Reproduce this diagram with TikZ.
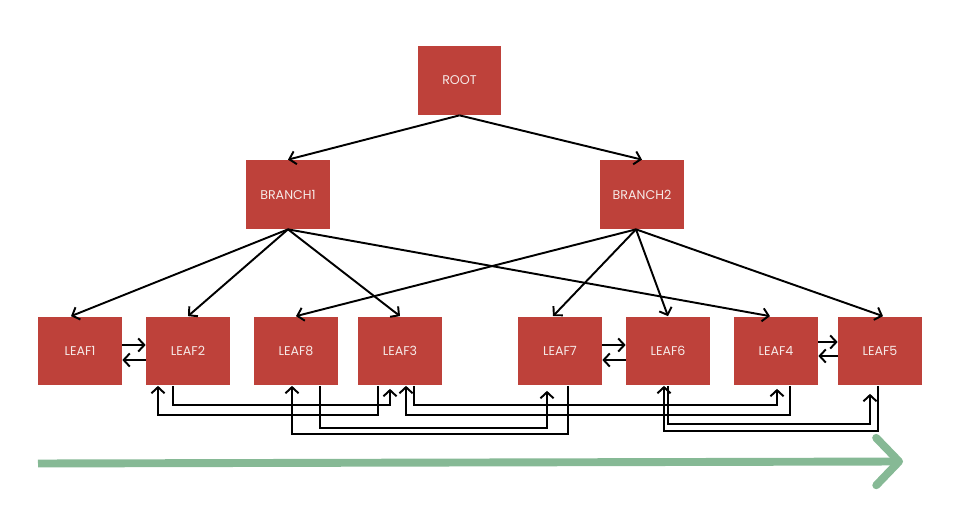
\documentclass[tikz,border=0pt]{standalone}
\usepackage{fontspec}
\setmainfont{Poppins}
\usepackage{tikz}
\usetikzlibrary{arrows.meta,calc}
\definecolor{brick}{HTML}{BE413A}
\definecolor{labeltext}{HTML}{F6E9E7}
\definecolor{sage}{HTML}{86B995}

\begin{document}
\begin{tikzpicture}[x=0.02cm,y=-0.02cm,>={Straight Barb[length=3.5pt,width=7.5pt]},
  box/.style={fill=brick,minimum width=1.68cm,minimum height=1.38cm,inner sep=0pt,text=labeltext,font=\fontsize{7.2}{8}\selectfont},
  link/.style={->,line width=1.1pt,black}]
\useasboundingbox (0,0) rectangle (958,506);
% tree
\node[box] (root) at (459.5,80.5) {ROOT};
\node[box] (b1) at (288,194.5) {BRANCH1};
\node[box] (b2) at (642,194.5) {BRANCH2};
\node[box] (l1) at (80,351) {LEAF1};
\node[box] (l2) at (188,351) {LEAF2};
\node[box] (l8) at (296,351) {LEAF8};
\node[box] (l3) at (400,351) {LEAF3};
\node[box] (l7) at (560,351) {LEAF7};
\node[box] (l6) at (668,351) {LEAF6};
\node[box] (l4) at (776,351) {LEAF4};
\node[box] (l5) at (880,351) {LEAF5};

\draw[link] (root.south) -- (b1.north);
\draw[link] (root.south) -- (b2.north);
\draw[link] (b1.south) -- ($(l1.north)+(-9,0)$);
\draw[link] (b1.south) -- (l2.north);
\draw[link] (b1.south) -- (l3.north);
\draw[link] (b1.south) -- ($(l4.north)+(-6,0)$);
\coordinate (b2s) at ($(b2.south)+(-6,0)$);
\draw[link] (b2s) -- (l8.north);
\draw[link] (b2s) -- ($(l7.north)+(-7,0)$);
\draw[link] (b2s) -- (l6.north);
\draw[link] (b2s) -- ($(l5.north)+(3,0)$);

% neighbours
\draw[link] ($(l1.east)+(0,-6)$) -- ($(l2.west)+(0,-6)$);
\draw[link] ($(l2.west)+(0,9)$) -- ($(l1.east)+(0,9)$);
\draw[link] ($(l7.east)+(0,-6)$) -- ($(l6.west)+(0,-6)$);
\draw[link] ($(l6.west)+(0,9)$) -- ($(l7.east)+(0,9)$);
\draw[link] ($(l4.east)+(0,-9)$) -- ($(l5.west)+(0,-9)$);
\draw[link] ($(l5.west)+(0,5)$) -- ($(l4.east)+(0,5)$);

% routes underneath
\draw[link] ($(l2.south)+(-15,0)$) -- ++(0,19) -| ($(l3.south)+(-10,3)$);
\draw[link] ($(l3.south)+(-22,0)$) -- ++(0,29) -| ($(l2.south)+(-30,0)$);
\draw[link] ($(l8.south)+(24,0)$) -- ++(0,42) -| ($(l7.south)+(-13,5)$);
\draw[link] ($(l7.south)+(8,0)$) -- ++(0,48) -| ($(l8.south)+(-4,0)$);
\draw[link] ($(l3.south)+(14,0)$) -- ++(0,19) -| ($(l4.south)+(1,3)$);
\draw[link] ($(l4.south)+(14,0)$) -- ++(0,29) -| ($(l3.south)+(6,0)$);
\draw[link] (l6.south) -- ++(0,38) -| ($(l5.south)+(-10,8)$);
\draw[link] ($(l5.south)+(-2,0)$) -- ++(0,45) -| ($(l6.south)+(-4,0)$);

% direction
\coordinate (start) at (38,463.5);
\coordinate (stop) at (903,461.5);
\draw[sage,line width=4.5pt,-{Straight Barb[length=13pt,width=27pt,round]}] (start) -- (stop);
\end{tikzpicture}
\end{document}
